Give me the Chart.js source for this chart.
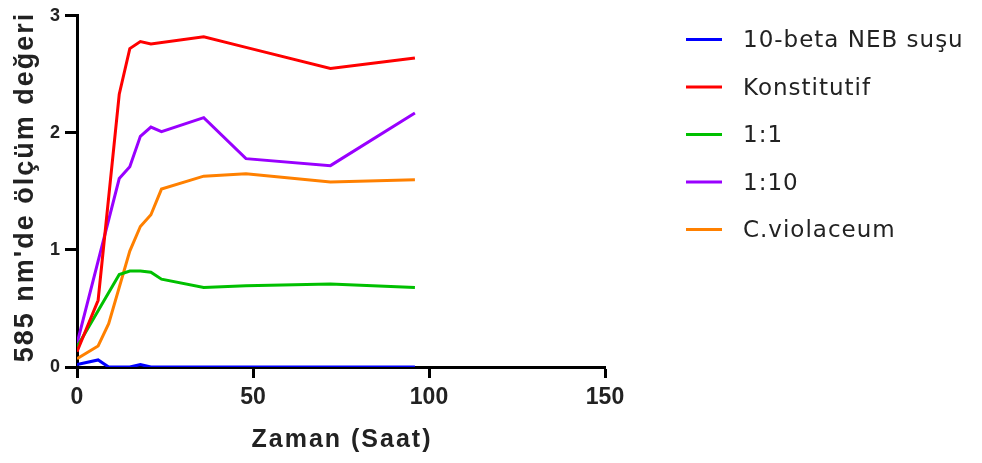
<!DOCTYPE html>
<html>
<head>
<meta charset="utf-8">
<script src="https://cdn.jsdelivr.net/npm/chart.js@4.4.1/dist/chart.umd.min.js"></script>
<style>
  html, body { margin: 0; padding: 0; background: #fff; }
  #wrap { width: 982px; height: 463px; }
</style>
</head>
<body>
<div id="wrap"><canvas id="chart" width="982" height="463"></canvas></div>
<script>
// values (hours, absorbance at 585 nm)
const seriesNames = ['10-beta NEB suşu', 'Konstitutif', '1:1', '1:10', 'C.violaceum'];
const seriesColors = ['#0000ff', '#ff0000', '#00c000', '#9900ff', '#ff8000'];

const nebHours = [0, 6, 9, 15, 18, 21, 24, 36, 48, 72, 96];
const nebValues = [0.02, 0.06, 0, 0, 0.02, 0, 0, 0, 0, 0, 0];

const konstHours = [0, 6, 12, 15, 18, 21, 36, 48, 72, 96];
const konstValues = [0.13, 0.57, 2.33, 2.72, 2.78, 2.76, 2.82, 2.73, 2.55, 2.64];

const oneOneHours = [0, 12, 15, 18, 21, 24, 36, 48, 72, 96];
const oneOneValues = [0.17, 0.79, 0.82, 0.82, 0.81, 0.75, 0.68, 0.695, 0.71, 0.68];

const oneTenHours = [0, 12, 15, 18, 21, 24, 36, 48, 72, 96];
const oneTenValues = [0.2, 1.61, 1.71, 1.97, 2.05, 2.01, 2.13, 1.78, 1.72, 2.17];

const violHours = [0, 6, 9, 15, 18, 21, 24, 36, 48, 72, 96];
const violValues = [0.07, 0.18, 0.37, 0.99, 1.2, 1.3, 1.52, 1.63, 1.65, 1.58, 1.6];

const xTicks = [0, 50, 100, 150];
const yTicks = [0, 1, 2, 3];
const xTitle = 'Zaman (Saat)';
const yTitle = "585 nm'de ölçüm değeri";

function pts(hours, values) {
    return hours.map((h, i) => ({ x: h, y: values[i] }));
}

const allHours = [nebHours, konstHours, oneOneHours, oneTenHours, violHours];
const allValues = [nebValues, konstValues, oneOneValues, oneTenValues, violValues];

const datasets = seriesNames.map((name, i) => ({
    label: name,
    data: pts(allHours[i], allValues[i]),
    borderColor: seriesColors[i],
    backgroundColor: seriesColors[i],
    borderWidth: 3,
    pointRadius: 0,
    tension: 0,
    fill: false
}));

// axis titles + legend on the right, drawn by hand
const extras = {
    id: 'extras',
    afterDraw(chart) {
        const c = chart.ctx;
        const area = chart.chartArea;
        c.save();
        c.fillStyle = '#222';

        // x title
        c.font = 'bold 25px "Liberation Sans", Arial, sans-serif';
        c.letterSpacing = '2px';
        c.textAlign = 'center';
        c.textBaseline = 'alphabetic';
        c.fillText(xTitle, (area.left + area.right) / 2 + 1, 447);

        // y title, rotated
        c.save();
        c.translate(33, 187);
        c.rotate(-Math.PI / 2);
        c.font = 'bold 27px "Liberation Sans", Arial, sans-serif';
        c.letterSpacing = '2px';
        c.fillText(yTitle, 0, 0);
        c.restore();

        // legend
        c.font = '23px "DejaVu Sans", sans-serif';
        c.letterSpacing = '1px';
        c.textAlign = 'left';
        chart.data.datasets.forEach((ds, i) => {
            const y = 39.5 + i * 47.5;
            c.strokeStyle = ds.borderColor;
            c.lineWidth = 3;
            c.beginPath();
            c.moveTo(686, y);
            c.lineTo(722, y);
            c.stroke();
            c.fillStyle = '#222';
            c.fillText(ds.label, 743, y + 7.5);
        });
        c.restore();
    }
};

const fam = '"Liberation Sans", Arial, sans-serif';

new Chart(document.getElementById('chart').getContext('2d'), {
    type: 'line',
    data: { datasets: datasets },
    options: {
        responsive: false,
        animation: false,
        layout: { padding: { left: 0, right: 377, top: 14, bottom: 0 } },
        plugins: { legend: { display: false }, tooltip: { enabled: false } },
        scales: {
            x: {
                type: 'linear',
                min: 0,
                max: 150,
                afterBuildTicks: s => { s.ticks = xTicks.map(v => ({ value: v })); },
                afterFit: s => { s.height = 96; },
                ticks: { font: { family: fam, size: 23, weight: 'bold' }, color: '#222', padding: 6, maxRotation: 0 },
                grid: { drawOnChartArea: false, drawTicks: true, tickLength: 11, tickWidth: 3, color: '#000' },
                border: { display: true, width: 3, color: '#000' }
            },
            y: {
                min: 0,
                max: 3,
                afterBuildTicks: s => { s.ticks = yTicks.map(v => ({ value: v })); },
                afterFit: s => { s.width = 77; },
                ticks: { font: { family: fam, size: 18, weight: 'bold' }, color: '#222', padding: 5 },
                grid: { drawOnChartArea: false, drawTicks: true, tickLength: 12, tickWidth: 3, color: '#000' },
                border: { display: true, width: 3, color: '#000' }
            }
        }
    },
    plugins: [extras]
});
</script>
</body>
</html>
